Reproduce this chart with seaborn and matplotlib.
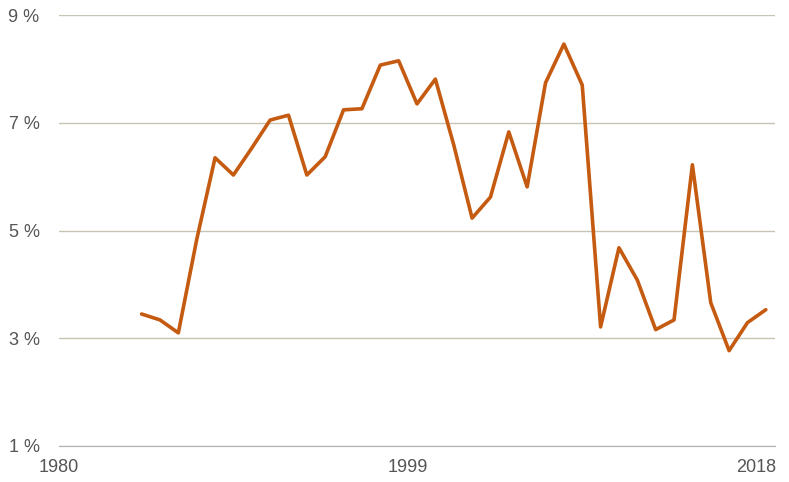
import matplotlib
matplotlib.use("Agg")
import matplotlib.pyplot as plt
import seaborn as sns
import numpy as np

# values, one per year
years = list(range(1985, 2020))
rates = [3.45, 3.34, 3.10, 4.83, 6.35, 6.03, 6.53, 7.05, 7.14, 6.03,
         6.37, 7.24, 7.26, 8.07, 8.15, 7.35, 7.81, 6.59, 5.23, 5.62,
         6.83, 5.81, 7.74, 8.46, 7.70, 3.21, 4.68, 4.08, 3.16, 3.34,
         6.22, 3.66, 2.77, 3.29, 3.53]
xticks = [1980, 1999, 2018]
yticks = [1, 3, 5, 7, 9]

sns.set_style("white")
plt.rcParams['font.family'] = ['Liberation Sans', 'DejaVu Sans']

fig = plt.figure(figsize=(7.89, 4.82), dpi=100)
ax = fig.add_axes([59 / 789, 1 - 446 / 482, (775 - 59) / 789, (446 - 15) / 482])

x = np.array(years) - 0.5
sns.lineplot(x=x, y=rates, ax=ax, color="#C55A11", linewidth=2.6)

ax.set_xlim(1980, 2019)
ax.set_ylim(1, 9)
ax.set_yticks(yticks)
ax.set_yticklabels([f"{v} %" for v in yticks])
ax.set_xticks(xticks)
ax.grid(axis="y", color="#c8c4b4", linewidth=1)
for s in ["top", "right", "left"]:
    ax.spines[s].set_visible(False)
ax.spines["bottom"].set_color("#b0b0b0")
ax.tick_params(axis="x", length=6, color="#b0b0b0", labelsize=13, labelcolor="#555555")
ax.tick_params(axis="y", length=0, labelsize=13, labelcolor="#555555", pad=14)
ax.set_xlabel("")
ax.set_ylabel("")

fig.savefig("out.png", dpi=100)
